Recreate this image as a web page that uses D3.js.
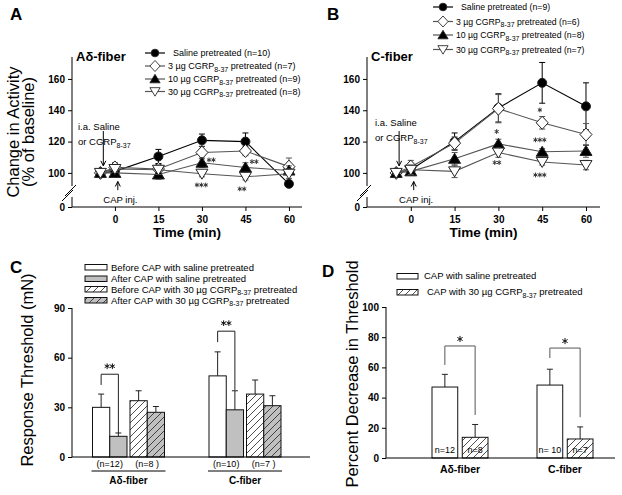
<!DOCTYPE html>
<html><head><meta charset="utf-8">
<script src="https://cdn.jsdelivr.net/npm/d3@7"></script>
<style>body{margin:0;background:#fff} svg{display:block;font-family:"Liberation Sans",Arial,sans-serif}</style>
</head><body><svg id="c" width="622" height="495"></svg>
<script>
// ---------------- DATA ----------------
const times = [-5, 0, 15, 30, 45, 60];
const timeTicks = [0, 15, 30, 45, 60];
const activityTicks = [0, 100, 120, 140, 160];

const legendA = ["Saline pretreated (n=10)", "3 µg CGRP|8-37| pretreated (n=7)", "10 µg CGRP|8-37| pretreated (n=9)", "30 µg CGRP|8-37| pretreated (n=8)"];
const legendB = ["Saline pretreated (n=9)", "3 µg CGRP|8-37| pretreated (n=6)", "10 µg CGRP|8-37| pretreated (n=8)", "30 µg CGRP|8-37| pretreated (n=7)"];

// Panel A (Aδ-fiber)
const adSaline = [100, 101, 110.5, 120.8, 120, 93];
const adSalineErr = [0, 2, 4.5, 4, 5.5, 2];
const ad3 = [100, 103.5, 102.5, 113, 114, 104];
const ad3Err = [0, 3, 3, 4, 3, 5.5];
const ad10 = [100, 100, 99, 106.5, 103.5, 101.5];
const ad10Err = [0, 2, 3, 3, 3, 3];
const ad30 = [100, 102.5, 102, 99.5, 97.5, 99.5];
const ad30Err = [0, 2, 3, 2, 2, 3];

// Panel B (C-fiber)
const cSaline = [100, 102, 120, 141.5, 157.5, 142.5];
const cSalineErr = [0, 3, 5.5, 9, 13, 15];
const c3 = [100, 104, 119, 141, 132, 124.5];
const c3Err = [0, 4, 4, 9, 4, 7];
const c10 = [100, 101, 109, 118.5, 113.5, 114];
const c10Err = [0, 2, 4, 3, 2, 4];
const c30 = [100, 102, 101, 113, 107, 105];
const c30Err = [0, 3, 4, 3, 2, 3];

// significance marks (time, value, count of asterisks)
const starsA = [[33.2, 108.3, 2], [48, 107.2, 2], [29.8, 92.3, 3], [43.8, 89.8, 2]];
const starsB = [[44.2, 140.2, 1], [29.4, 126.4, 1], [44.2, 121.1, 3], [29.5, 106.6, 2], [44.2, 98.7, 3]];

// Panel C
const fiberGroups = ["Aδ-fiber", "C-fiber"];
const legendC = ["Before CAP with saline pretreated", "After CAP with saline pretreated", "Before CAP with 30 µg CGRP|8-37| pretreated", "After CAP with 30 µg CGRP|8-37| pretreated"];
const thrBeforeSal = [30, 49];
const thrBeforeSalErr = [8, 14.5];
const thrAfterSal = [12.5, 28.5];
const thrAfterSalErr = [2, 11.5];
const thrBeforeCG = [34, 38];
const thrBeforeCGErr = [6, 8.5];
const thrAfterCG = [27, 31];
const thrAfterCGErr = [3.5, 6];
const thrTicks = [0, 30, 60, 90];
const nLabelsC = [["(n=12)", "(n=8 )"], ["(n=10)", "(n=7 )"]];
const bracketsC = [[50, 43.5, 14.5], [76, 69.4, 40.5]]; // top, left end, right end

// Panel D
const legendD = ["CAP with saline pretreated", "CAP with 30 µg CGRP|8-37| pretreated"];
const decSal = [47, 48.3];
const decSalErr = [8.4, 10.5];
const decCG = [13.7, 12.6];
const decCGErr = [8.5, 8];
const decTicks = [0, 20, 40, 60, 80, 100];
const nLabelsD = [["n=12", "n=8"], ["n= 10", "n=7"]];
const bracketsD = [[74.2, 61.6, 28.5], [72.8, 66.2, 27]];

// ---------------- DRAWING ----------------
const svg = d3.select("#c");
const defs = svg.append("defs");
function hatch(id, bg) {
  const p = defs.append("pattern").attr("id", id).attr("patternUnits", "userSpaceOnUse")
    .attr("width", 7).attr("height", 7);
  p.append("rect").attr("width", 7).attr("height", 7).attr("fill", bg);
  p.append("path").attr("d", "M-1,1L1,-1M0,7L7,0M6,8L8,6").attr("stroke", "#222").attr("stroke-width", 0.8);
}
hatch("hw", "#fff");
hatch("hg", "#c0c0c0");

function rich(textSel, str, subSize) {
  str.split("|").forEach((p, i) => {
    const t = textSel.append("tspan").text(p);
    if (i % 2 === 1) t.attr("font-size", subSize).attr("dy", 2.5);
    else if (i > 0) t.attr("dy", -2.5);
  });
}

const asterisk = d3.symbol(d3.symbolAsterisk, 14)();
function stars(g, cx, cy, n, scale, color) {
  const sp = 4.2 * scale;
  for (let k = 0; k < n; k++) {
    g.append("path").attr("d", asterisk)
      .attr("transform", `translate(${cx + (k - (n - 1) / 2) * sp},${cy}) scale(${scale})`)
      .attr("fill", "none").attr("stroke", color).attr("stroke-width", 1 / scale);
  }
}

const styles = [
  {m: "M0,-4.5A4.5,4.5 0 1,1 0,4.5A4.5,4.5 0 1,1 0,-4.5Z", fill: "#000", line: "#000"},
  {m: "M0,-6.5L6,0L0,6.5L-6,0Z", fill: "#fff", line: "#555"},
  {m: "M0,-5.5L6,4.5L-6,4.5Z", fill: "#000", line: "#555"},
  {m: "M0,5.5L6,-4.5L-6,-4.5Z", fill: "#fff", line: "#555"}
];

function linePanel(cfg) {
  const g = svg.append("g");
  const x = d3.scaleLinear().domain(cfg.xDomain).range(cfg.xRange);
  const y = d3.scaleLinear().domain([0, 88, 174]).range([207, 191.7, 57]);
  const ax = cfg.xRange[0];
  // y axis with break
  g.append("line").attr("x1", ax).attr("x2", ax).attr("y1", 57).attr("y2", 186).attr("stroke", "#000");
  g.append("line").attr("x1", ax).attr("x2", ax).attr("y1", 197).attr("y2", 207).attr("stroke", "#000");
  g.append("line").attr("x1", ax - 7).attr("y1", 196).attr("x2", ax + 4).attr("y2", 185).attr("stroke", "#000");
  g.append("line").attr("x1", ax - 10).attr("y1", 201).attr("x2", ax + 1).attr("y2", 190).attr("stroke", "#000");
  const yAxis = g.append("g").attr("transform", `translate(${ax},0)`)
    .call(d3.axisLeft(y).tickValues(activityTicks).tickSize(4).tickPadding(3));
  yAxis.select(".domain").remove();
  yAxis.selectAll("text").attr("font-size", 10).attr("font-weight", "bold").attr("font-family", "Liberation Sans, Arial");
  const xAxis = g.append("g").attr("transform", "translate(0,207)")
    .call(d3.axisBottom(x).tickValues(timeTicks).tickSize(4).tickPadding(5));
  xAxis.select(".domain").attr("d", `M${cfg.xRange[0]},0H${cfg.xRange[1]}`);
  xAxis.selectAll("text").attr("font-size", 10).attr("font-weight", "bold").attr("font-family", "Liberation Sans, Arial");
  g.append("text").attr("x", (cfg.xRange[0] + cfg.xRange[1]) / 2).attr("y", 237).attr("text-anchor", "middle")
    .attr("font-size", 13.5).attr("font-weight", "bold").text("Time (min)");
  g.append("text").attr("x", ax + 4).attr("y", 61).attr("font-size", 13).attr("font-weight", "bold").text(cfg.title);

  // series
  cfg.series.forEach((s, si) => {
    const st = styles[si];
    const pts = times.map((t, i) => [x(t), y(s.v[i]), y(s.v[i] + s.e[i]), y(s.v[i] - s.e[i])]);
    g.append("path").attr("d", d3.line()(pts.map(p => [p[0], p[1]]))).attr("fill", "none")
      .attr("stroke", st.line).attr("stroke-width", 1.1);
    pts.forEach(p => {
      if (p[2] === p[1]) return;
      g.append("path").attr("d", `M${p[0]},${p[2]}V${p[3]}M${p[0] - 3},${p[2]}H${p[0] + 3}M${p[0] - 3},${p[3]}H${p[0] + 3}`)
        .attr("stroke", st.line).attr("stroke-width", 1).attr("fill", "none");
    });
    pts.forEach(p => {
      g.append("path").attr("d", st.m).attr("transform", `translate(${p[0]},${p[1]})`)
        .attr("fill", st.fill).attr("stroke", "#222").attr("stroke-width", 1);
    });
  });
  // stars
  cfg.stars.forEach(s => stars(g, x(s[0]), y(s[1]), s[2], 1.05, "#333"));
  // annotations
  const xa = x(-4), xc = x(1);
  g.append("text").attr("x", ax + cfg.annDx).attr("y", cfg.annY).attr("font-size", 9.5).text("i.a. Saline");
  const t2 = g.append("text").attr("x", ax + cfg.annDx).attr("y", cfg.annY + 15).attr("font-size", 9.5);
  rich(t2, "or CGRP|8-37|", 7);
  g.append("path").attr("d", `M${xa},${y(128) + 2}V${y(104.5)}`).attr("stroke", "#000");
  g.append("path").attr("d", `M${xa - 2.5},${y(104.5) - 5}L${xa},${y(104.5)}L${xa + 2.5},${y(104.5) - 5}`).attr("stroke", "#000").attr("fill", "none");
  g.append("path").attr("d", `M${xc},${y(89)}V${y(94.5)}`).attr("stroke", "#000");
  g.append("path").attr("d", `M${xc - 2.5},${y(94.5) + 5}L${xc},${y(94.5)}L${xc + 2.5},${y(94.5) + 5}`).attr("stroke", "#000").attr("fill", "none");
  g.append("text").attr("x", xa).attr("y", 203).attr("font-size", 9.5).text("CAP inj.");
  // legend
  cfg.legend.forEach((lab, i) => {
    const ly = cfg.legY[i], st = styles[i];
    g.append("line").attr("x1", cfg.legX).attr("x2", cfg.legX + 20).attr("y1", ly).attr("y2", ly).attr("stroke", i === 0 ? "#000" : "#555").attr("stroke-width", 1.2);
    g.append("path").attr("d", st.m).attr("transform", `translate(${cfg.legX + 10},${ly}) scale(0.85)`)
      .attr("fill", st.fill).attr("stroke", "#222");
    const t = g.append("text").attr("x", cfg.legX + 23 + (i === 0 ? 5 : 0)).attr("y", ly + 3.2).attr("font-size", cfg.legFont);
    rich(t, lab, 7);
  });
}

linePanel({
  xDomain: [-14.8, 64.5], xRange: [72, 302], title: "Aδ-fiber",
  series: [{v: adSaline, e: adSalineErr}, {v: ad3, e: ad3Err}, {v: ad10, e: ad10Err}, {v: ad30, e: ad30Err}],
  stars: starsA, legend: legendA, legX: 145, legY: [53, 66, 79, 91.5], legFont: 9,
  annDx: 6, annY: 130
});
linePanel({
  xDomain: [-15, 64.8], xRange: [367, 600], title: "C-fiber",
  series: [{v: cSaline, e: cSalineErr}, {v: c3, e: c3Err}, {v: c10, e: c10Err}, {v: c30, e: c30Err}],
  stars: starsB, legend: legendB, legX: 433, legY: [7, 21.5, 35, 49.5], legFont: 8.7,
  annDx: 8, annY: 126
});

// y titles for A
svg.append("text").attr("transform", "translate(19,132) rotate(-90)").attr("text-anchor", "middle")
  .attr("font-size", 16.5).text("Change in Activity");
svg.append("text").attr("transform", "translate(34,132) rotate(-90)").attr("text-anchor", "middle")
  .attr("font-size", 16.5).text("(% of baseline)");

// panel letters
[["A", 10, 20], ["B", 327, 20], ["C", 10, 273], ["D", 322, 277]].forEach(d => {
  svg.append("text").attr("x", d[1]).attr("y", d[2]).attr("font-size", 17).attr("font-weight", "bold").text(d[0]);
});

// ---------------- Panel C ----------------
(function () {
  const g = svg.append("g");
  const y = d3.scaleLinear().domain([0, 90]).range([457, 308]);
  const gx = d3.scalePoint().domain(fiberGroups).range([128.5, 245]);
  const pair = d3.scaleBand().domain(["sal", "cg"]).range([-36, 36]).paddingInner(0.08);
  const bw = pair.bandwidth() / 2;
  const series = [
    {v: thrBeforeSal, e: thrBeforeSalErr, p: "sal", k: 0, fill: "#fff"},
    {v: thrAfterSal, e: thrAfterSalErr, p: "sal", k: 1, fill: "#c0c0c0"},
    {v: thrBeforeCG, e: thrBeforeCGErr, p: "cg", k: 0, fill: "url(#hw)"},
    {v: thrAfterCG, e: thrAfterCGErr, p: "cg", k: 1, fill: "url(#hg)"}
  ];
  series.forEach(s => {
    fiberGroups.forEach((grp, gi) => {
      const x0 = gx(grp) + pair(s.p) + s.k * bw, xm = x0 + bw / 2;
      g.append("path").attr("d", `M${xm},${y(s.v[gi])}V${y(s.v[gi] + s.e[gi])}M${xm - 3},${y(s.v[gi] + s.e[gi])}H${xm + 3}`)
        .attr("stroke", "#222").attr("fill", "none");
      g.append("rect").attr("x", x0).attr("y", y(s.v[gi])).attr("width", bw).attr("height", y(0) - y(s.v[gi]))
        .attr("fill", s.fill).attr("stroke", "#111").attr("stroke-width", 1);
    });
  });
  const yAxis = g.append("g").attr("transform", "translate(72,0)").call(d3.axisLeft(y).tickValues(thrTicks).tickSize(4).tickPadding(3));
  yAxis.selectAll("text").attr("font-size", 10).attr("font-weight", "bold").attr("font-family", "Liberation Sans, Arial");
  yAxis.select(".domain").attr("d", "M0,457V308");
  g.append("line").attr("x1", 72).attr("x2", 310).attr("y1", 457).attr("y2", 457).attr("stroke", "#000");
  // brackets
  bracketsC.forEach((b, gi) => {
    const xl = gx(fiberGroups[gi]) + pair("sal") + bw / 2, xr = xl + bw;
    g.append("path").attr("d", `M${xl},${y(b[1])}V${y(b[0])}H${xr}V${y(b[2])}`).attr("fill", "none").attr("stroke", "#222");
    stars(g, (xl + xr) / 2, y(b[0]) - 8, 2, 1.25, "#111");
  });
  // group labels
  fiberGroups.forEach((grp, gi) => {
    ["sal", "cg"].forEach((p, pi) => {
      g.append("text").attr("x", gx(grp) + pair(p) + pair.bandwidth() / 2).attr("y", 467).attr("text-anchor", "middle")
        .attr("font-size", 9).text(nLabelsC[gi][pi]);
    });
    g.append("line").attr("x1", gx(grp) - 37).attr("x2", gx(grp) + 37).attr("y1", 471).attr("y2", 471).attr("stroke", "#000");
    g.append("text").attr("x", gx(grp)).attr("y", 484).attr("text-anchor", "middle").attr("font-size", 10).attr("font-weight", "bold").text(grp);
  });
  // y title
  g.append("text").attr("transform", "translate(33,370) rotate(-90)").attr("text-anchor", "middle").attr("font-size", 16.5).text("Response Threshold (mN)");
  // legend
  const fills = ["#fff", "#c0c0c0", "url(#hw)", "url(#hg)"];
  const ly = [267.5, 279, 289.5, 300.5];
  legendC.forEach((lab, i) => {
    g.append("rect").attr("x", 85).attr("y", ly[i] - 3).attr("width", 22).attr("height", 5.5).attr("fill", fills[i]).attr("stroke", "#111");
    const t = g.append("text").attr("x", 111).attr("y", ly[i] + 3.3).attr("font-size", 9.5);
    rich(t, lab, 7);
  });
})();

// ---------------- Panel D ----------------
(function () {
  const g = svg.append("g");
  const y = d3.scaleLinear().domain([0, 100]).range([458, 307]);
  const gx = d3.scalePoint().domain(fiberGroups).range([460, 565]);
  const sub = d3.scaleBand().domain(["sal", "cg"]).range([-28, 28]).paddingInner(0.15);
  const bw = sub.bandwidth();
  const series = [
    {v: decSal, e: decSalErr, p: "sal", fill: "#fff"},
    {v: decCG, e: decCGErr, p: "cg", fill: "url(#hw)"}
  ];
  series.forEach((s, si) => {
    fiberGroups.forEach((grp, gi) => {
      const x0 = gx(grp) + sub(s.p), xm = x0 + bw / 2;
      g.append("path").attr("d", `M${xm},${y(s.v[gi])}V${y(s.v[gi] + s.e[gi])}M${xm - 3},${y(s.v[gi] + s.e[gi])}H${xm + 3}`)
        .attr("stroke", "#222").attr("fill", "none");
      g.append("rect").attr("x", x0).attr("y", y(s.v[gi])).attr("width", bw).attr("height", y(0) - y(s.v[gi]))
        .attr("fill", s.fill).attr("stroke", "#111");
      g.append("text").attr("x", xm).attr("y", 453).attr("text-anchor", "middle").attr("font-size", 9).text(nLabelsD[gi][si]);
    });
  });
  const yAxis = g.append("g").attr("transform", "translate(386,0)").call(d3.axisLeft(y).tickValues(decTicks).tickSize(4).tickPadding(3));
  yAxis.selectAll("text").attr("font-size", 10).attr("font-weight", "bold").attr("font-family", "Liberation Sans, Arial");
  yAxis.select(".domain").attr("d", "M0,458V307");
  g.append("line").attr("x1", 386).attr("x2", 615).attr("y1", 458).attr("y2", 458).attr("stroke", "#000");
  bracketsD.forEach((b, gi) => {
    const xl = gx(fiberGroups[gi]) + sub("sal") + bw / 2, xr = gx(fiberGroups[gi]) + sub("cg") + bw / 2;
    g.append("path").attr("d", `M${xl},${y(b[1])}V${y(b[0])}H${xr}V${y(b[2])}`).attr("fill", "none").attr("stroke", "#555");
    stars(g, (xl + xr) / 2, y(b[0]) - 7, 1, 1.35, "#111");
  });
  fiberGroups.forEach(grp => {
    g.append("text").attr("x", gx(grp)).attr("y", 473).attr("text-anchor", "middle").attr("font-size", 10.5).attr("font-weight", "bold").text(grp);
  });
  g.append("text").attr("transform", "translate(358,374) rotate(-90)").attr("text-anchor", "middle").attr("font-size", 16.5).text("Percent Decrease in Threshold");
  const fills = ["#fff", "url(#hw)"];
  const ly = [276, 292];
  legendD.forEach((lab, i) => {
    g.append("rect").attr("x", 397).attr("y", ly[i] - 2.5).attr("width", 21).attr("height", 5.5).attr("fill", fills[i]).attr("stroke", "#111");
    const t = g.append("text").attr("x", 424 + i * 3).attr("y", ly[i] + 3.3).attr("font-size", 9.5);
    rich(t, lab, 7);
  });
})();
</script></body></html>
